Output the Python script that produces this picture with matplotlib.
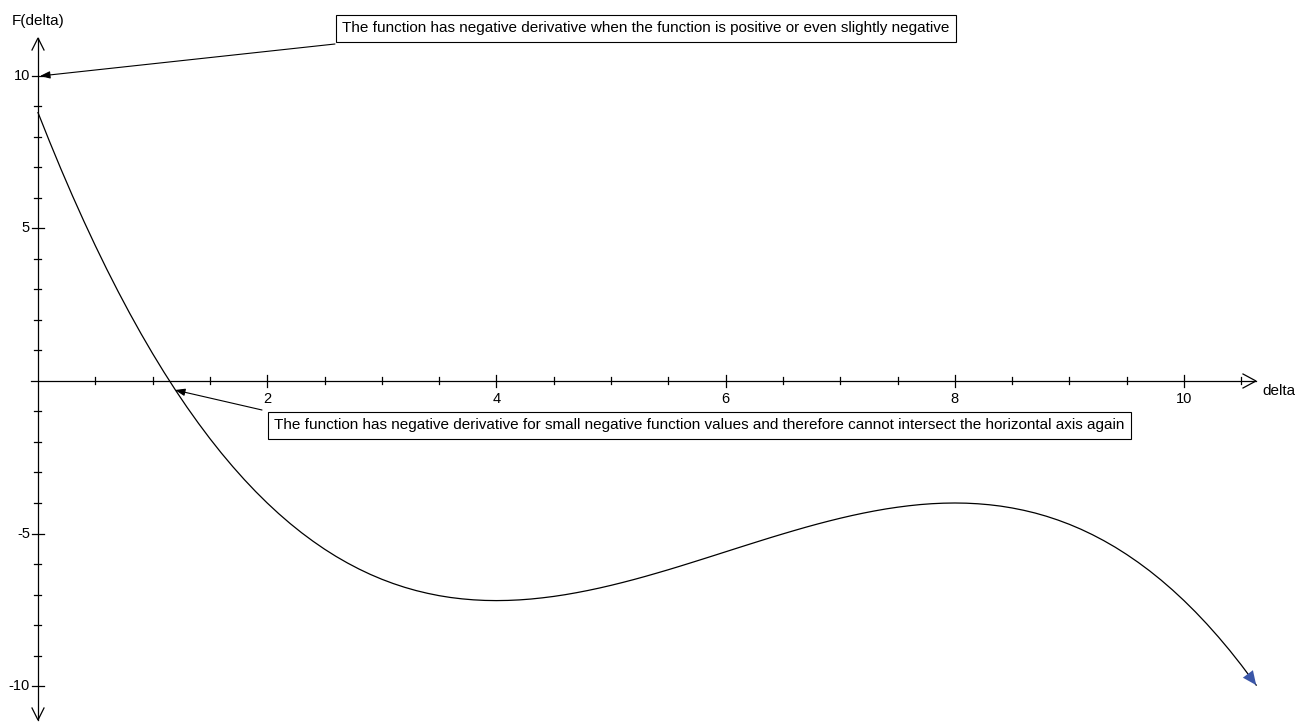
import matplotlib
matplotlib.use("Agg")
import matplotlib.pyplot as plt

# ---- data ----
delta = [0.0, 0.1, 0.2, 0.3, 0.4, 0.5, 0.6, 0.7, 0.8, 0.9,
         1.0, 1.1, 1.2, 1.3, 1.4, 1.5, 1.6, 1.7, 1.8, 1.9,
         2.0, 2.1, 2.2, 2.3, 2.4, 2.5, 2.6, 2.7, 2.8, 2.9,
         3.0, 3.1, 3.2, 3.3, 3.4, 3.5, 3.6, 3.7, 3.8, 3.9,
         4.0, 4.1, 4.2, 4.3, 4.4, 4.5, 4.6, 4.7, 4.8, 4.9,
         5.0, 5.1, 5.2, 5.3, 5.4, 5.5, 5.6, 5.7, 5.8, 5.9,
         6.0, 6.1, 6.2, 6.3, 6.4, 6.5, 6.6, 6.7, 6.8, 6.9,
         7.0, 7.1, 7.2, 7.3, 7.4, 7.5, 7.6, 7.7, 7.8, 7.9,
         8.0, 8.1, 8.2, 8.3, 8.4, 8.5, 8.6, 8.7, 8.8, 8.9,
         9.0, 9.1, 9.2, 9.3, 9.4, 9.5, 9.6, 9.7, 9.8, 9.9,
         10.0, 10.1, 10.2, 10.3, 10.4, 10.5, 10.6, 10.63]
F = [8.800, 7.858, 6.951, 6.079, 5.242, 4.438, 3.666, 2.928, 2.221, 1.545,
     0.900, 0.285, -0.301, -0.858, -1.386, -1.888, -2.362, -2.809, -3.231, -3.628,
     -4.000, -4.348, -4.673, -4.975, -5.254, -5.513, -5.750, -5.966, -6.163, -6.341,
     -6.500, -6.641, -6.765, -6.872, -6.962, -7.038, -7.098, -7.143, -7.175, -7.194,
     -7.200, -7.194, -7.177, -7.149, -7.110, -7.063, -7.006, -6.940, -6.867, -6.787,
     -6.700, -6.607, -6.509, -6.406, -6.298, -6.188, -6.074, -5.957, -5.839, -5.720,
     -5.600, -5.480, -5.361, -5.243, -5.126, -5.013, -4.902, -4.794, -4.691, -4.593,
     -4.500, -4.413, -4.333, -4.260, -4.194, -4.138, -4.090, -4.051, -4.023, -4.006,
     -4.000, -4.006, -4.025, -4.057, -4.102, -4.163, -4.238, -4.328, -4.435, -4.559,
     -4.700, -4.859, -5.037, -5.234, -5.450, -5.688, -5.946, -6.225, -6.527, -6.852,
     -7.200, -7.572, -7.969, -8.391, -8.838, -9.313, -9.814, -9.971]

x_major = [2, 4, 6, 8, 10]
x_minor = [0.5, 1.0, 1.5, 2.5, 3.0, 3.5, 4.5, 5.0, 5.5, 6.5, 7.0, 7.5,
           8.5, 9.0, 9.5, 10.5]
y_major = [10, 5, -5, -10]
y_minor = [9, 8, 7, 6, 4, 3, 2, 1, -1, -2, -3, -4, -6, -7, -8, -9]

note1 = "The function has negative derivative when the function is positive or even slightly negative"
note2 = ("The function has negative derivative for small negative function values "
         "and therefore cannot intersect the horizontal axis again")

# ---- figure ----
W, H = 1295, 722
fig = plt.figure(figsize=(W / 100, H / 100), dpi=100)
ax = fig.add_axes([0, 0, 1, 1])
ax.set_axis_off()

sx = 114.6   # px per unit x
sy = 30.5    # px per unit y
x0p, y0p = 38, 381
ax.set_xlim(-x0p / sx, (W - x0p) / sx)
ax.set_ylim(-(H - y0p) / sy, y0p / sy)

plt.rcParams['font.family'] = ['Liberation Sans', 'DejaVu Sans']

def px_x(p):
    return p / sx

def px_y(p):
    return p / sy

lw = 0.9
# axes
x_left, x_right = -7 / sx, (1256 - x0p) / sx
y_top, y_bot = (y0p - 38) / sy, -(720 - y0p) / sy
ax.plot([x_left, x_right], [0, 0], color='black', lw=lw)
ax.plot([0, 0], [y_bot, y_top], color='black', lw=lw)

# open arrowheads on axes
def vhead(tip, back1, back2):
    ax.plot([back1[0], tip[0], back2[0]], [back1[1], tip[1], back2[1]],
            color='black', lw=lw, solid_joinstyle='miter')

vhead((x_right, 0), (x_right - px_x(13), px_y(7)), (x_right - px_x(13), -px_y(7)))
vhead((0, y_top), (-px_x(6), y_top - px_y(12)), (px_x(6), y_top - px_y(12)))
vhead((0, y_bot), (-px_x(6), y_bot + px_y(12)), (px_x(6), y_bot + px_y(12)))

# ticks
for xv in x_major:
    ax.plot([xv, xv], [-px_y(6), px_y(6)], color='black', lw=lw)
    ax.text(xv, -px_y(11), str(xv), ha='center', va='top', fontsize=10.5)
for xv in x_minor:
    ax.plot([xv, xv], [-px_y(3.5), px_y(3.5)], color='black', lw=lw)
for yv in y_major:
    ax.plot([-px_x(6), px_x(6)], [yv, yv], color='black', lw=lw)
    ax.text(-px_x(8), yv, str(yv), ha='right', va='center', fontsize=10.5)
for yv in y_minor:
    ax.plot([-px_x(3.5), px_x(3.5)], [yv, yv], color='black', lw=lw)

# axis labels
ax.text(-px_x(26), px_y(y0p - 21), "F(delta)", ha='left', va='center', fontsize=11)
ax.text(px_x(1262 - x0p), -px_y(10), "delta", ha='left', va='center', fontsize=11)

# curve
ax.plot(delta, F, color='black', lw=0.9)
ax.annotate('', xy=(delta[-1], F[-1]), xytext=(delta[-3], F[-3]),
            arrowprops=dict(arrowstyle='-|>,head_length=1.0,head_width=0.45',
                            color='#3a56a8', lw=0.01, shrinkA=0, shrinkB=0))

# annotation boxes
box = dict(boxstyle='square,pad=0.42', fc='white', ec='black', lw=0.8)
ax.text(px_x(342 - x0p), px_y(y0p - 28.5), note1, ha='left', va='center',
        fontsize=11, bbox=box)
ax.text(px_x(274 - x0p), -px_y(425.5 - y0p), note2, ha='left', va='center',
        fontsize=11, bbox=box)

arr = dict(arrowstyle='-|>,head_length=0.6,head_width=0.22', color='black',
           lw=0.8, shrinkA=0, shrinkB=0)
ax.annotate('', xy=(px_x(40 - x0p), px_y(y0p - 76)),
            xytext=(px_x(335 - x0p), px_y(y0p - 44)), arrowprops=arr)
ax.annotate('', xy=(px_x(175 - x0p), -px_y(390 - y0p)),
            xytext=(px_x(262 - x0p), -px_y(410 - y0p)), arrowprops=arr)

fig.savefig('out.png', dpi=100)
